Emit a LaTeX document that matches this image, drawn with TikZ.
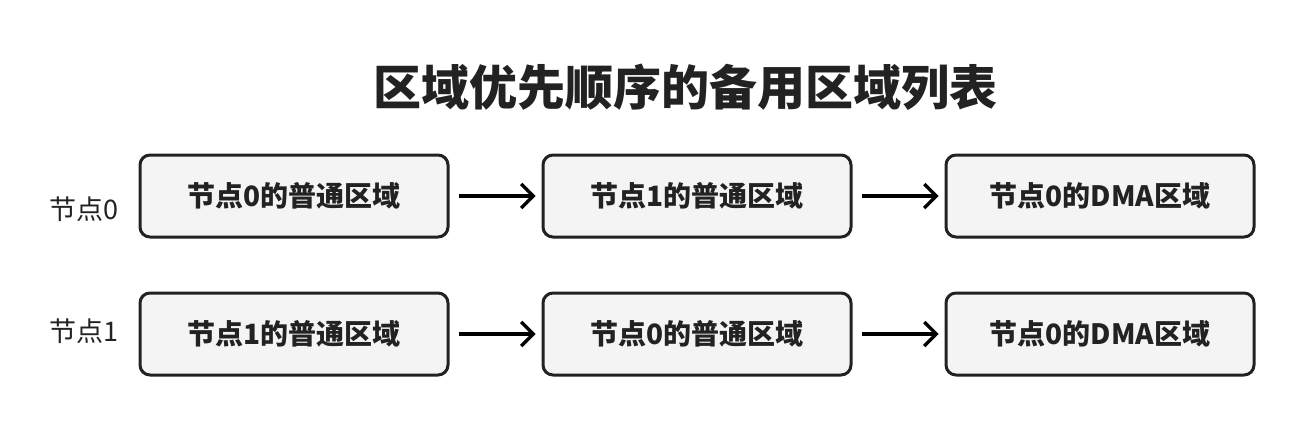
\documentclass[tikz,border=0pt]{standalone}
\usepackage{fontspec}
\usepackage{tikz}
\usetikzlibrary{arrows.meta}
\newfontfamily\cjk{Noto Sans CJK SC}
\definecolor{boxfill}{RGB}{244,244,244}
\definecolor{inkdark}{RGB}{34,34,34}

\begin{document}
\begin{tikzpicture}[x=1pt,y=1pt,yscale=-1,xscale=1,
  zonebox/.style={draw=inkdark, fill=boxfill, line width=3pt, rounded corners=10pt,
    minimum width=308pt, minimum height=82pt, inner sep=0pt,
    font=\cjk\bfseries\fontsize{28}{32}\selectfont, text=inkdark},
  rowlabel/.style={font=\cjk\fontsize{27}{30}\selectfont, text=inkdark, inner sep=0pt},
  nextarrow/.style={line width=3.2pt, draw=black, -{Straight Barb[length=12pt,width=24pt]},
    shorten <=9pt, shorten >=6pt}]
%set diagram bounds to the reference size
\useasboundingbox (0,0) rectangle (1304,426);

% Title Node
\node [font=\cjk\bfseries\fontsize{48}{56}\selectfont, text=inkdark, inner sep=0pt] (title) at (685,87) {区域优先顺序的备用区域列表};

% Text Node
\node [rowlabel] (lab0) at (84,209) {节点0};
% Text Node
\node [rowlabel] (lab1) at (84,331) {节点1};

% Boxes of row 0
\node [zonebox] (r0a) at (294,196) {节点0的普通区域};
\node [zonebox] (r0b) at (697,196) {节点1的普通区域};
\node [zonebox] (r0c) at (1100,196) {节点0的DMA区域};
% Boxes of row 1
\node [zonebox] (r1a) at (294,334) {节点1的普通区域};
\node [zonebox] (r1b) at (697,334) {节点0的普通区域};
\node [zonebox] (r1c) at (1100,334) {节点0的DMA区域};

%Straight Lines
\draw [nextarrow] (r0a) -- (r0b);
\draw [nextarrow] (r0b) -- (r0c);
\draw [nextarrow] (r1a) -- (r1b);
\draw [nextarrow] (r1b) -- (r1c);

\end{tikzpicture}
\end{document}
